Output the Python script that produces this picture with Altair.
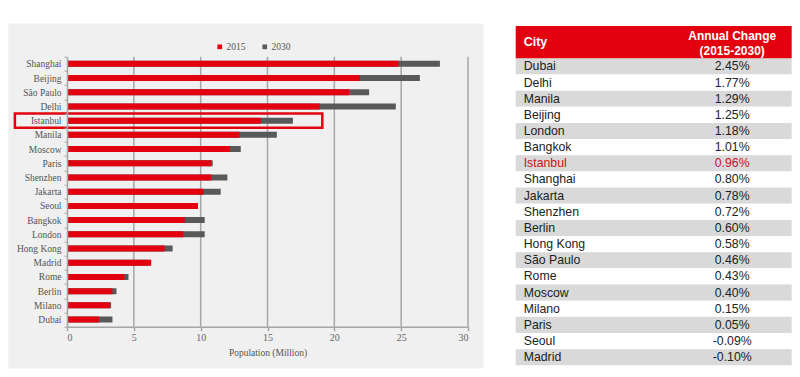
import altair as alt
import pandas as pd

# ---------------- data ----------------
cities = ["Shanghai", "Beijing", "São Paulo", "Delhi", "Istanbul", "Manila", "Moscow",
          "Paris", "Shenzhen", "Jakarta", "Seoul", "Bangkok", "London", "Hong Kong",
          "Madrid", "Rome", "Berlin", "Milano", "Dubai"]
pop_2015 = [24.8, 21.9, 21.1, 18.9, 14.5, 12.9, 12.2, 10.8, 10.8, 10.2, 9.8, 8.8, 8.7,
            7.3, 6.3, 4.3, 3.4, 3.2, 2.4]
pop_2030 = [27.9, 26.4, 22.6, 24.6, 16.9, 15.7, 13.0, 10.9, 12.0, 11.5, 9.7, 10.3, 10.3,
            7.9, 6.2, 4.6, 3.7, 3.3, 3.4]
x_ticks = [0, 5, 10, 15, 20, 25, 30]
grid_ticks = [5, 10, 15, 20, 25, 30]
highlight_city = "Istanbul"
highlight_span = [-3.9, 19.1]

table_cities = ["Dubai", "Delhi", "Manila", "Beijing", "London", "Bangkok", "Istanbul",
                "Shanghai", "Jakarta", "Shenzhen", "Berlin", "Hong Kong", "São Paulo",
                "Rome", "Moscow", "Milano", "Paris", "Seoul", "Madrid"]
table_changes = ["2.45%", "1.77%", "1.29%", "1.25%", "1.18%", "1.01%", "0.96%", "0.80%",
                 "0.78%", "0.72%", "0.60%", "0.58%", "0.46%", "0.43%", "0.40%", "0.15%",
                 "0.05%", "-0.09%", "-0.10%"]
header_labels = ["City", "Annual Change", "(2015-2030)"]

RED = "#e3000f"
DARK = "#58595b"
GRID = "#a6a6a6"
SERIF = "Liberation Serif"
SANS = "Liberation Sans"

# ---------------- bar chart ----------------
bars_df = pd.DataFrame(
    [{"city": c, "series": "2030", "value": v} for c, v in zip(cities, pop_2030)]
    + [{"city": c, "series": "2015", "value": v} for c, v in zip(cities, pop_2015)]
)

W, H = 401, 270
y_scale = alt.Scale(type="band", domain=cities, paddingInner=0, paddingOuter=0)
x_scale = alt.Scale(domain=[0, 30], nice=False)

panel = alt.Chart(pd.DataFrame({"a": [0]})).mark_rect(color="#f0f0f0").encode(
    x=alt.value(-58.7), x2=alt.value(416.6), y=alt.value(-33.3), y2=alt.value(311.7)
)

grid = alt.Chart(pd.DataFrame({"v": grid_ticks})).mark_rule(
    color=GRID, strokeWidth=1.5
).encode(x=alt.X("v:Q", scale=x_scale))

bars = alt.Chart(bars_df).mark_bar(size=6).encode(
    x=alt.X("value:Q", stack=None, scale=x_scale,
            axis=alt.Axis(values=x_ticks, grid=False, title="Population (Million)",
                          domainColor=GRID, domainWidth=1.5, tickColor=GRID,
                          tickWidth=1.5, tickSize=4, labelFont=SERIF, labelFontSize=10,
                          labelColor="#666666", labelPadding=2, titleFont=SERIF,
                          titleFontSize=9.5, titleFontWeight="normal",
                          titleColor="#555555", titlePadding=5, zindex=1)),
    y=alt.Y("city:N", scale=y_scale, sort=cities,
            axis=alt.Axis(title=None, labelFont=SERIF, labelFontSize=9.5,
                          labelColor="#555555", domainColor=GRID, domainWidth=1.5,
                          tickColor=GRID, tickSize=3, tickBand="extent",
                          labelPadding=3, zindex=1)),
    color=alt.Color("series:N", scale=alt.Scale(domain=["2015", "2030"], range=[RED, DARK]),
                    legend=alt.Legend(title=None, orient="none", legendX=148, legendY=-15,
                                      direction="horizontal", symbolType="square",
                                      symbolSize=22, labelFont=SERIF, labelFontSize=9.5,
                                      labelColor="#555555", labelOffset=2,
                                      columnPadding=14)),
)

hl = alt.Chart(pd.DataFrame({"city": [highlight_city], "x0": [highlight_span[0]],
                             "x1": [highlight_span[1]]})).mark_rect(
    fillOpacity=0, stroke=RED, strokeWidth=2.5
).encode(
    y=alt.Y("city:N", scale=y_scale, sort=cities),
    x=alt.X("x0:Q", scale=x_scale),
    x2="x1:Q",
)

left = alt.layer(panel, grid, bars, hl).properties(width=W, height=H)

# ---------------- table ----------------
TW, TH = 276, 307
t_df = pd.DataFrame({"city": table_cities, "change": table_changes})
t_df["i"] = range(len(table_cities))
t_df["i2"] = t_df["i"] + 1
t_df["mid"] = t_df["i"] + 0.5
ty_scale = alt.Scale(domain=[-0.1, 18.9], nice=False, zero=False, reverse=True)

rows = alt.Chart(t_df).mark_rect().encode(
    y=alt.Y("i:Q", scale=ty_scale, axis=None), y2="i2:Q",
    x=alt.value(0), x2=alt.value(TW),
    fill=alt.condition("datum.i % 2 == 0", alt.value("#d9d9d9"), alt.value("#ffffff")),
)
header = alt.Chart(pd.DataFrame({"h0": [-2.0], "h1": [0.0]})).mark_rect(color=RED).encode(
    y=alt.Y("h0:Q", scale=ty_scale, axis=None), y2="h1:Q", x=alt.value(0), x2=alt.value(TW)
)
h_city = alt.Chart(pd.DataFrame({"t": header_labels[:1], "p": [-1.0]})).mark_text(
    align="left", baseline="middle", font=SANS, fontSize=12.5, fontWeight="bold", color="white"
).encode(text="t:N", x=alt.value(8), y=alt.Y("p:Q", scale=ty_scale, axis=None))
h_chg = alt.Chart(pd.DataFrame({"t": header_labels[1:], "p": [-1.38, -0.46]})).mark_text(
    align="center", baseline="middle", font=SANS, fontSize=12, fontWeight="bold", color="white"
).encode(text="t:N", x=alt.value(216.5), y=alt.Y("p:Q", scale=ty_scale, axis=None))

red_if_hl = alt.condition(f"datum.city == '{highlight_city}'", alt.value("#d0101e"), alt.value("#222222"))
t_city = alt.Chart(t_df).mark_text(
    align="left", baseline="middle", font=SANS, fontSize=12.3
).encode(text="city:N", x=alt.value(8), y=alt.Y("mid:Q", scale=ty_scale, axis=None), color=red_if_hl)
t_val = alt.Chart(t_df).mark_text(
    align="center", baseline="middle", font=SANS, fontSize=12.3
).encode(text="change:N", x=alt.value(216.5), y=alt.Y("mid:Q", scale=ty_scale, axis=None), color=red_if_hl)

table = alt.layer(rows, header, h_city, h_chg, t_city, t_val).properties(width=TW, height=TH)

chart = alt.hconcat(left, table, spacing=31.7).properties(
    padding={"left": 0, "top": 14.7, "right": 0, "bottom": 0},
    background="white",
).configure_view(stroke=None)

chart.save("out.html", embed_options={"renderer": "svg", "actions": False})
